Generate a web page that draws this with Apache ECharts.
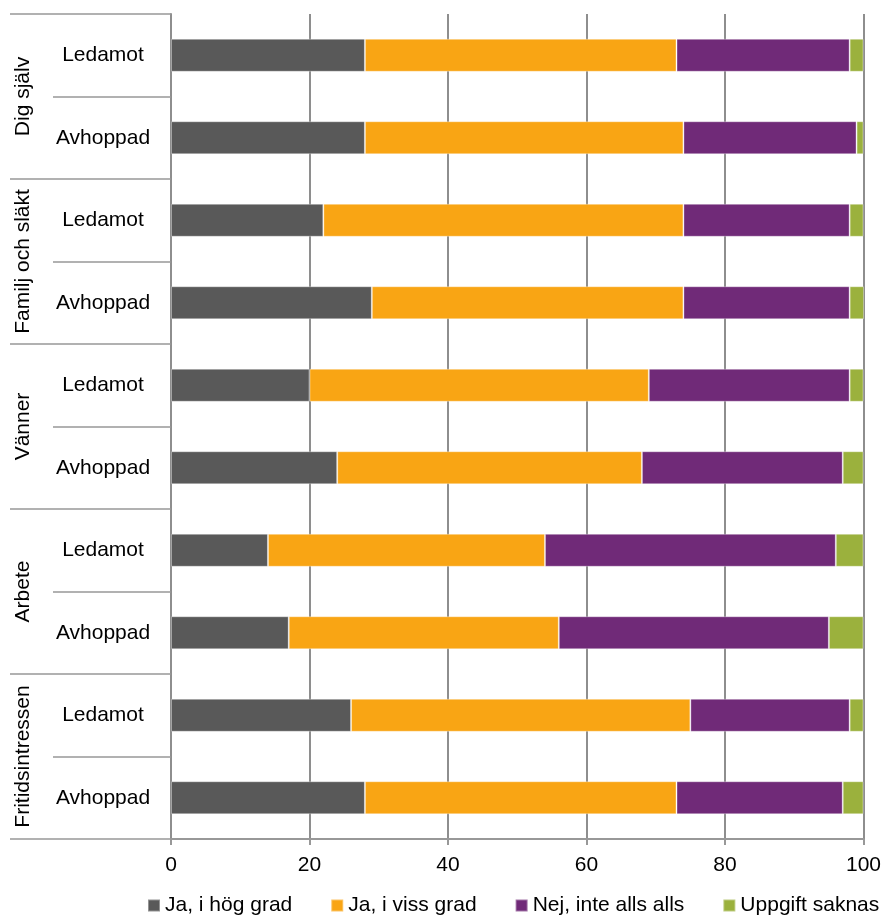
<!DOCTYPE html>
<html>
<head>
<meta charset="utf-8">
<script src="https://cdn.jsdelivr.net/npm/echarts@6/dist/echarts.min.js"></script>
<style>
html,body{margin:0;padding:0;background:#fff;}
#chart{width:884px;height:917px;}
</style>
</head>
<body>
<div id="chart"></div>
<script>
var groups = ['Dig själv', 'Familj och släkt', 'Vänner', 'Arbete', 'Fritidsintressen'];
var subgroups = ['Ledamot', 'Avhoppad'];
var seriesNames = ['Ja, i hög grad', 'Ja, i viss grad', 'Nej, inte alls alls', 'Uppgift saknas'];
// order: Dig själv L, A, Familj L, A, Vänner L, A, Arbete L, A, Fritid L, A
var hogGrad   = [28, 28, 22, 29, 20, 24, 14, 17, 26, 28];
var vissGrad  = [45, 46, 52, 45, 49, 44, 40, 39, 49, 45];
var inteAlls  = [25, 25, 24, 24, 29, 29, 42, 39, 23, 24];
var saknas    = [ 2,  1,  2, 2.5, 2,  3,  4,  5,  2,  3];
var xTicks = [0, 20, 40, 60, 80, 100];

var categories = [];
groups.forEach(function (g) {
  subgroups.forEach(function (s) { categories.push(g + '|' + s); });
});

var colors = ['#595959', '#F9A514', '#702A78', '#9BB13D'];
var values = [hogGrad, vissGrad, inteAlls, saknas];
var FONT = 'Liberation Sans, Arial, sans-serif';
var lineCol = '#989898';

var chart = echarts.init(document.getElementById('chart'), null, {renderer: 'canvas'});
chart.setOption({
  animation: false,
  backgroundColor: '#ffffff',
  color: colors,
  textStyle: {fontFamily: FONT},
  grid: {left: 171, right: 20, top: 14, bottom: 78, containLabel: false},
  legend: {
    left: 147,
    top: 895,
    padding: 0,
    itemWidth: 12,
    itemHeight: 12,
    itemGap: 38,
    icon: 'rect',
    textStyle: {fontSize: 21, color: '#000', fontFamily: FONT},
    data: seriesNames
  },
  xAxis: {
    type: 'value',
    min: xTicks[0],
    max: xTicks[xTicks.length - 1],
    interval: 20,
    axisLine: {show: true, lineStyle: {color: lineCol, width: 2}},
    axisTick: {show: true, length: 6, lineStyle: {color: lineCol, width: 2}},
    splitLine: {show: true, lineStyle: {color: '#8e8e8e', width: 2}},
    axisLabel: {fontSize: 21, color: '#000', margin: 16, fontFamily: FONT}
  },
  yAxis: [
    {
      type: 'category',
      inverse: true,
      data: categories,
      position: 'left',
      axisLine: {show: true, lineStyle: {color: '#8e8e8e', width: 2}},
      axisTick: {show: true, interval: 0, length: 118, lineStyle: {color: lineCol, width: 1.5}},
      axisLabel: {
        interval: 0, hideOverlap: false,
        fontSize: 21, color: '#000', fontFamily: FONT,
        align: 'center', verticalAlign: 'middle', margin: 68,
        formatter: function (v) { return v.split('|')[1]; }
      },
      splitLine: {show: false}
    },
    {
      type: 'category',
      inverse: true,
      data: groups,
      position: 'left',
      offset: 0,
      axisLine: {show: false},
      axisTick: {show: true, interval: 0, length: 161, lineStyle: {color: lineCol, width: 1.5}},
      axisLabel: {
        interval: 0, hideOverlap: false,
        fontSize: 21, color: '#000', fontFamily: FONT,
        rotate: 90, align: 'center', verticalAlign: 'middle', margin: 148
      },
      splitLine: {show: false}
    }
  ],
  series: values.map(function (arr, i) {
    return {
      name: seriesNames[i],
      type: 'bar',
      stack: 'total',
      yAxisIndex: 0,
      barWidth: 33,
      data: arr,
      itemStyle: {color: colors[i], borderColor: 'rgba(255,255,255,0.35)', borderWidth: 1}
    };
  })
});
</script>
</body>
</html>
